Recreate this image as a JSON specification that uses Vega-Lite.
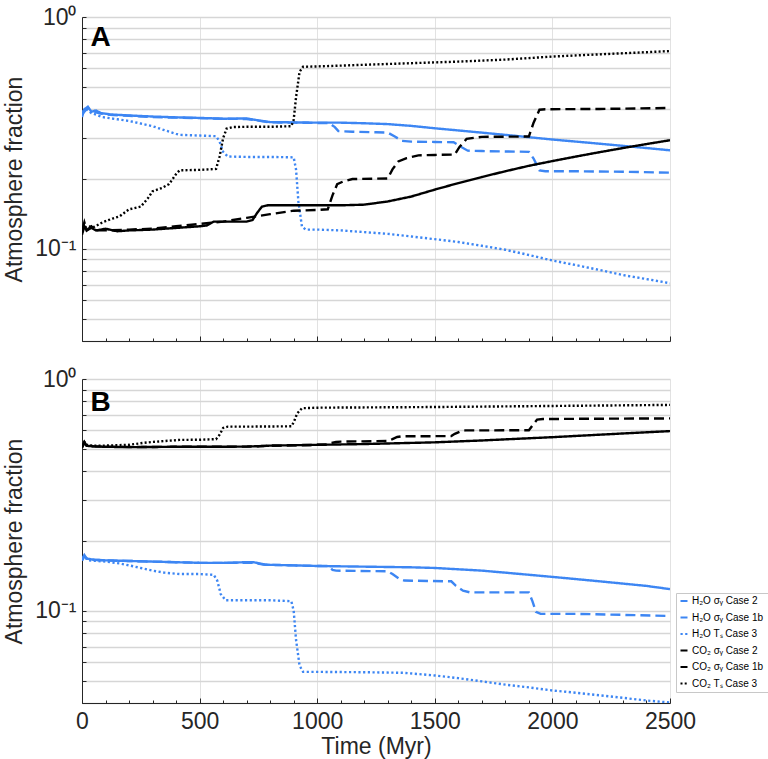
{
  "$schema": "https://vega.github.io/schema/vega-lite/v6.json",
  "description": "Atmosphere fraction of H2O and CO2 against time, two panels (A, B).",
  "padding": {"left": 3, "top": 6, "right": 0, "bottom": 4},
  "bounds": "flush",
  "spacing": 38,
  "datasets": {
    "a": [
      {"series": "h2o-2", "time": 0, "frac": 0.37}, {"series": "h2o-2", "time": 10, "frac": 0.40}, {"series": "h2o-2", "time": 25, "frac": 0.41}, {"series": "h2o-2", "time": 40, "frac": 0.39}, {"series": "h2o-2", "time": 60, "frac": 0.395}, {"series": "h2o-2", "time": 80, "frac": 0.385}, {"series": "h2o-2", "time": 120, "frac": 0.38}, {"series": "h2o-2", "time": 200, "frac": 0.376}, {"series": "h2o-2", "time": 300, "frac": 0.372}, {"series": "h2o-2", "time": 400, "frac": 0.369}, {"series": "h2o-2", "time": 500, "frac": 0.367}, {"series": "h2o-2", "time": 600, "frac": 0.364}, {"series": "h2o-2", "time": 700, "frac": 0.365}, {"series": "h2o-2", "time": 750, "frac": 0.358}, {"series": "h2o-2", "time": 800, "frac": 0.352}, {"series": "h2o-2", "time": 900, "frac": 0.351}, {"series": "h2o-2", "time": 1000, "frac": 0.35}, {"series": "h2o-2", "time": 1100, "frac": 0.35}, {"series": "h2o-2", "time": 1200, "frac": 0.348}, {"series": "h2o-2", "time": 1300, "frac": 0.345}, {"series": "h2o-2", "time": 1400, "frac": 0.339}, {"series": "h2o-2", "time": 1500, "frac": 0.331}, {"series": "h2o-2", "time": 1600, "frac": 0.324}, {"series": "h2o-2", "time": 1700, "frac": 0.317}, {"series": "h2o-2", "time": 1800, "frac": 0.31}, {"series": "h2o-2", "time": 1900, "frac": 0.303}, {"series": "h2o-2", "time": 2000, "frac": 0.296}, {"series": "h2o-2", "time": 2100, "frac": 0.29}, {"series": "h2o-2", "time": 2200, "frac": 0.284}, {"series": "h2o-2", "time": 2300, "frac": 0.278}, {"series": "h2o-2", "time": 2400, "frac": 0.272}, {"series": "h2o-2", "time": 2500, "frac": 0.266},

      {"series": "h2o-1b", "time": 0, "frac": 0.38}, {"series": "h2o-1b", "time": 10, "frac": 0.39}, {"series": "h2o-1b", "time": 25, "frac": 0.405}, {"series": "h2o-1b", "time": 40, "frac": 0.40}, {"series": "h2o-1b", "time": 60, "frac": 0.388}, {"series": "h2o-1b", "time": 80, "frac": 0.383}, {"series": "h2o-1b", "time": 120, "frac": 0.378}, {"series": "h2o-1b", "time": 200, "frac": 0.375}, {"series": "h2o-1b", "time": 300, "frac": 0.37}, {"series": "h2o-1b", "time": 400, "frac": 0.368}, {"series": "h2o-1b", "time": 500, "frac": 0.366}, {"series": "h2o-1b", "time": 600, "frac": 0.364}, {"series": "h2o-1b", "time": 700, "frac": 0.363}, {"series": "h2o-1b", "time": 750, "frac": 0.357}, {"series": "h2o-1b", "time": 800, "frac": 0.351}, {"series": "h2o-1b", "time": 900, "frac": 0.35}, {"series": "h2o-1b", "time": 1000, "frac": 0.349}, {"series": "h2o-1b", "time": 1050, "frac": 0.349}, {"series": "h2o-1b", "time": 1075, "frac": 0.335}, {"series": "h2o-1b", "time": 1090, "frac": 0.322}, {"series": "h2o-1b", "time": 1150, "frac": 0.32}, {"series": "h2o-1b", "time": 1250, "frac": 0.318}, {"series": "h2o-1b", "time": 1300, "frac": 0.317}, {"series": "h2o-1b", "time": 1330, "frac": 0.305}, {"series": "h2o-1b", "time": 1360, "frac": 0.292}, {"series": "h2o-1b", "time": 1400, "frac": 0.29}, {"series": "h2o-1b", "time": 1500, "frac": 0.289}, {"series": "h2o-1b", "time": 1580, "frac": 0.288}, {"series": "h2o-1b", "time": 1610, "frac": 0.276}, {"series": "h2o-1b", "time": 1640, "frac": 0.265}, {"series": "h2o-1b", "time": 1700, "frac": 0.264}, {"series": "h2o-1b", "time": 1800, "frac": 0.263}, {"series": "h2o-1b", "time": 1900, "frac": 0.262}, {"series": "h2o-1b", "time": 1920, "frac": 0.245}, {"series": "h2o-1b", "time": 1945, "frac": 0.218}, {"series": "h2o-1b", "time": 1970, "frac": 0.216}, {"series": "h2o-1b", "time": 2100, "frac": 0.216}, {"series": "h2o-1b", "time": 2300, "frac": 0.215}, {"series": "h2o-1b", "time": 2500, "frac": 0.213},

      {"series": "h2o-3", "time": 0, "frac": 0.39}, {"series": "h2o-3", "time": 20, "frac": 0.40}, {"series": "h2o-3", "time": 40, "frac": 0.385}, {"series": "h2o-3", "time": 87, "frac": 0.37}, {"series": "h2o-3", "time": 150, "frac": 0.362}, {"series": "h2o-3", "time": 200, "frac": 0.356}, {"series": "h2o-3", "time": 250, "frac": 0.347}, {"series": "h2o-3", "time": 300, "frac": 0.338}, {"series": "h2o-3", "time": 350, "frac": 0.325}, {"series": "h2o-3", "time": 400, "frac": 0.313}, {"series": "h2o-3", "time": 415, "frac": 0.31}, {"series": "h2o-3", "time": 500, "frac": 0.308}, {"series": "h2o-3", "time": 570, "frac": 0.306}, {"series": "h2o-3", "time": 585, "frac": 0.29}, {"series": "h2o-3", "time": 600, "frac": 0.262}, {"series": "h2o-3", "time": 620, "frac": 0.25}, {"series": "h2o-3", "time": 700, "frac": 0.249}, {"series": "h2o-3", "time": 800, "frac": 0.249}, {"series": "h2o-3", "time": 900, "frac": 0.248}, {"series": "h2o-3", "time": 910, "frac": 0.22}, {"series": "h2o-3", "time": 920, "frac": 0.16}, {"series": "h2o-3", "time": 935, "frac": 0.125}, {"series": "h2o-3", "time": 950, "frac": 0.121}, {"series": "h2o-3", "time": 1000, "frac": 0.121}, {"series": "h2o-3", "time": 1100, "frac": 0.12}, {"series": "h2o-3", "time": 1200, "frac": 0.118}, {"series": "h2o-3", "time": 1300, "frac": 0.116}, {"series": "h2o-3", "time": 1400, "frac": 0.113}, {"series": "h2o-3", "time": 1500, "frac": 0.11}, {"series": "h2o-3", "time": 1600, "frac": 0.107}, {"series": "h2o-3", "time": 1700, "frac": 0.103}, {"series": "h2o-3", "time": 1800, "frac": 0.099}, {"series": "h2o-3", "time": 1900, "frac": 0.094}, {"series": "h2o-3", "time": 2000, "frac": 0.089}, {"series": "h2o-3", "time": 2100, "frac": 0.085}, {"series": "h2o-3", "time": 2200, "frac": 0.081}, {"series": "h2o-3", "time": 2300, "frac": 0.077}, {"series": "h2o-3", "time": 2400, "frac": 0.074}, {"series": "h2o-3", "time": 2500, "frac": 0.071},

      {"series": "co2-2", "time": 0, "frac": 0.115}, {"series": "co2-2", "time": 10, "frac": 0.125}, {"series": "co2-2", "time": 20, "frac": 0.12}, {"series": "co2-2", "time": 40, "frac": 0.123}, {"series": "co2-2", "time": 60, "frac": 0.12}, {"series": "co2-2", "time": 100, "frac": 0.122}, {"series": "co2-2", "time": 150, "frac": 0.119}, {"series": "co2-2", "time": 200, "frac": 0.12}, {"series": "co2-2", "time": 300, "frac": 0.121}, {"series": "co2-2", "time": 400, "frac": 0.123}, {"series": "co2-2", "time": 500, "frac": 0.125}, {"series": "co2-2", "time": 530, "frac": 0.126}, {"series": "co2-2", "time": 560, "frac": 0.131}, {"series": "co2-2", "time": 600, "frac": 0.131}, {"series": "co2-2", "time": 700, "frac": 0.131}, {"series": "co2-2", "time": 725, "frac": 0.133}, {"series": "co2-2", "time": 745, "frac": 0.143}, {"series": "co2-2", "time": 765, "frac": 0.152}, {"series": "co2-2", "time": 790, "frac": 0.154}, {"series": "co2-2", "time": 900, "frac": 0.154}, {"series": "co2-2", "time": 1000, "frac": 0.154}, {"series": "co2-2", "time": 1100, "frac": 0.154}, {"series": "co2-2", "time": 1200, "frac": 0.155}, {"series": "co2-2", "time": 1300, "frac": 0.16}, {"series": "co2-2", "time": 1400, "frac": 0.168}, {"series": "co2-2", "time": 1500, "frac": 0.18}, {"series": "co2-2", "time": 1600, "frac": 0.192}, {"series": "co2-2", "time": 1700, "frac": 0.204}, {"series": "co2-2", "time": 1800, "frac": 0.216}, {"series": "co2-2", "time": 1900, "frac": 0.228}, {"series": "co2-2", "time": 2000, "frac": 0.239}, {"series": "co2-2", "time": 2100, "frac": 0.25}, {"series": "co2-2", "time": 2200, "frac": 0.261}, {"series": "co2-2", "time": 2300, "frac": 0.272}, {"series": "co2-2", "time": 2400, "frac": 0.283}, {"series": "co2-2", "time": 2500, "frac": 0.294},

      {"series": "co2-1b", "time": 0, "frac": 0.12}, {"series": "co2-1b", "time": 10, "frac": 0.13}, {"series": "co2-1b", "time": 20, "frac": 0.12}, {"series": "co2-1b", "time": 40, "frac": 0.125}, {"series": "co2-1b", "time": 60, "frac": 0.12}, {"series": "co2-1b", "time": 100, "frac": 0.12}, {"series": "co2-1b", "time": 200, "frac": 0.121}, {"series": "co2-1b", "time": 300, "frac": 0.122}, {"series": "co2-1b", "time": 400, "frac": 0.125}, {"series": "co2-1b", "time": 500, "frac": 0.128}, {"series": "co2-1b", "time": 600, "frac": 0.131}, {"series": "co2-1b", "time": 700, "frac": 0.136}, {"series": "co2-1b", "time": 800, "frac": 0.141}, {"series": "co2-1b", "time": 900, "frac": 0.146}, {"series": "co2-1b", "time": 1000, "frac": 0.147}, {"series": "co2-1b", "time": 1045, "frac": 0.148}, {"series": "co2-1b", "time": 1065, "frac": 0.17}, {"series": "co2-1b", "time": 1085, "frac": 0.19}, {"series": "co2-1b", "time": 1110, "frac": 0.195}, {"series": "co2-1b", "time": 1150, "frac": 0.2}, {"series": "co2-1b", "time": 1300, "frac": 0.201}, {"series": "co2-1b", "time": 1320, "frac": 0.22}, {"series": "co2-1b", "time": 1345, "frac": 0.238}, {"series": "co2-1b", "time": 1380, "frac": 0.246}, {"series": "co2-1b", "time": 1430, "frac": 0.253}, {"series": "co2-1b", "time": 1500, "frac": 0.254}, {"series": "co2-1b", "time": 1585, "frac": 0.255}, {"series": "co2-1b", "time": 1605, "frac": 0.275}, {"series": "co2-1b", "time": 1635, "frac": 0.298}, {"series": "co2-1b", "time": 1700, "frac": 0.304}, {"series": "co2-1b", "time": 1900, "frac": 0.305}, {"series": "co2-1b", "time": 1920, "frac": 0.35}, {"series": "co2-1b", "time": 1945, "frac": 0.398}, {"series": "co2-1b", "time": 1970, "frac": 0.4}, {"series": "co2-1b", "time": 2200, "frac": 0.401}, {"series": "co2-1b", "time": 2500, "frac": 0.405},

      {"series": "co2-3", "time": 0, "frac": 0.12}, {"series": "co2-3", "time": 20, "frac": 0.125}, {"series": "co2-3", "time": 50, "frac": 0.124}, {"series": "co2-3", "time": 87, "frac": 0.13}, {"series": "co2-3", "time": 130, "frac": 0.135}, {"series": "co2-3", "time": 160, "frac": 0.138}, {"series": "co2-3", "time": 200, "frac": 0.148}, {"series": "co2-3", "time": 250, "frac": 0.152}, {"series": "co2-3", "time": 280, "frac": 0.165}, {"series": "co2-3", "time": 300, "frac": 0.177}, {"series": "co2-3", "time": 340, "frac": 0.183}, {"series": "co2-3", "time": 370, "frac": 0.19}, {"series": "co2-3", "time": 400, "frac": 0.21}, {"series": "co2-3", "time": 415, "frac": 0.218}, {"series": "co2-3", "time": 500, "frac": 0.219}, {"series": "co2-3", "time": 570, "frac": 0.221}, {"series": "co2-3", "time": 585, "frac": 0.25}, {"series": "co2-3", "time": 600, "frac": 0.3}, {"series": "co2-3", "time": 615, "frac": 0.33}, {"series": "co2-3", "time": 640, "frac": 0.335}, {"series": "co2-3", "time": 700, "frac": 0.336}, {"series": "co2-3", "time": 800, "frac": 0.336}, {"series": "co2-3", "time": 890, "frac": 0.338}, {"series": "co2-3", "time": 900, "frac": 0.36}, {"series": "co2-3", "time": 910, "frac": 0.45}, {"series": "co2-3", "time": 925, "frac": 0.58}, {"series": "co2-3", "time": 940, "frac": 0.61}, {"series": "co2-3", "time": 1000, "frac": 0.612}, {"series": "co2-3", "time": 1200, "frac": 0.622}, {"series": "co2-3", "time": 1400, "frac": 0.632}, {"series": "co2-3", "time": 1600, "frac": 0.642}, {"series": "co2-3", "time": 1800, "frac": 0.655}, {"series": "co2-3", "time": 2000, "frac": 0.675}, {"series": "co2-3", "time": 2200, "frac": 0.69}, {"series": "co2-3", "time": 2400, "frac": 0.705}, {"series": "co2-3", "time": 2500, "frac": 0.713}
    ],
    "b": [
      {"series": "h2o-2", "time": 0, "frac": 0.165}, {"series": "h2o-2", "time": 10, "frac": 0.172}, {"series": "h2o-2", "time": 20, "frac": 0.168}, {"series": "h2o-2", "time": 50, "frac": 0.166}, {"series": "h2o-2", "time": 100, "frac": 0.165}, {"series": "h2o-2", "time": 200, "frac": 0.164}, {"series": "h2o-2", "time": 300, "frac": 0.163}, {"series": "h2o-2", "time": 400, "frac": 0.162}, {"series": "h2o-2", "time": 500, "frac": 0.161}, {"series": "h2o-2", "time": 600, "frac": 0.161}, {"series": "h2o-2", "time": 700, "frac": 0.162}, {"series": "h2o-2", "time": 730, "frac": 0.162}, {"series": "h2o-2", "time": 780, "frac": 0.158}, {"series": "h2o-2", "time": 900, "frac": 0.157}, {"series": "h2o-2", "time": 1000, "frac": 0.156}, {"series": "h2o-2", "time": 1200, "frac": 0.155}, {"series": "h2o-2", "time": 1400, "frac": 0.154}, {"series": "h2o-2", "time": 1500, "frac": 0.153}, {"series": "h2o-2", "time": 1600, "frac": 0.151}, {"series": "h2o-2", "time": 1700, "frac": 0.149}, {"series": "h2o-2", "time": 1800, "frac": 0.146}, {"series": "h2o-2", "time": 1900, "frac": 0.143}, {"series": "h2o-2", "time": 2000, "frac": 0.14}, {"series": "h2o-2", "time": 2100, "frac": 0.137}, {"series": "h2o-2", "time": 2200, "frac": 0.134}, {"series": "h2o-2", "time": 2300, "frac": 0.131}, {"series": "h2o-2", "time": 2400, "frac": 0.128}, {"series": "h2o-2", "time": 2500, "frac": 0.124},

      {"series": "h2o-1b", "time": 0, "frac": 0.167}, {"series": "h2o-1b", "time": 10, "frac": 0.174}, {"series": "h2o-1b", "time": 20, "frac": 0.168}, {"series": "h2o-1b", "time": 50, "frac": 0.166}, {"series": "h2o-1b", "time": 100, "frac": 0.165}, {"series": "h2o-1b", "time": 200, "frac": 0.164}, {"series": "h2o-1b", "time": 300, "frac": 0.163}, {"series": "h2o-1b", "time": 400, "frac": 0.162}, {"series": "h2o-1b", "time": 500, "frac": 0.161}, {"series": "h2o-1b", "time": 600, "frac": 0.161}, {"series": "h2o-1b", "time": 700, "frac": 0.161}, {"series": "h2o-1b", "time": 730, "frac": 0.161}, {"series": "h2o-1b", "time": 780, "frac": 0.158}, {"series": "h2o-1b", "time": 900, "frac": 0.157}, {"series": "h2o-1b", "time": 1000, "frac": 0.156}, {"series": "h2o-1b", "time": 1050, "frac": 0.156}, {"series": "h2o-1b", "time": 1065, "frac": 0.15}, {"series": "h2o-1b", "time": 1080, "frac": 0.149}, {"series": "h2o-1b", "time": 1300, "frac": 0.148}, {"series": "h2o-1b", "time": 1320, "frac": 0.144}, {"series": "h2o-1b", "time": 1350, "frac": 0.137}, {"series": "h2o-1b", "time": 1370, "frac": 0.135}, {"series": "h2o-1b", "time": 1570, "frac": 0.134}, {"series": "h2o-1b", "time": 1590, "frac": 0.128}, {"series": "h2o-1b", "time": 1620, "frac": 0.122}, {"series": "h2o-1b", "time": 1650, "frac": 0.12}, {"series": "h2o-1b", "time": 1900, "frac": 0.12}, {"series": "h2o-1b", "time": 1915, "frac": 0.11}, {"series": "h2o-1b", "time": 1930, "frac": 0.099}, {"series": "h2o-1b", "time": 1950, "frac": 0.097}, {"series": "h2o-1b", "time": 2100, "frac": 0.097}, {"series": "h2o-1b", "time": 2300, "frac": 0.096}, {"series": "h2o-1b", "time": 2500, "frac": 0.095},

      {"series": "h2o-3", "time": 0, "frac": 0.165}, {"series": "h2o-3", "time": 10, "frac": 0.17}, {"series": "h2o-3", "time": 30, "frac": 0.165}, {"series": "h2o-3", "time": 100, "frac": 0.163}, {"series": "h2o-3", "time": 160, "frac": 0.16}, {"series": "h2o-3", "time": 200, "frac": 0.157}, {"series": "h2o-3", "time": 250, "frac": 0.153}, {"series": "h2o-3", "time": 300, "frac": 0.149}, {"series": "h2o-3", "time": 350, "frac": 0.146}, {"series": "h2o-3", "time": 415, "frac": 0.144}, {"series": "h2o-3", "time": 500, "frac": 0.144}, {"series": "h2o-3", "time": 560, "frac": 0.143}, {"series": "h2o-3", "time": 575, "frac": 0.135}, {"series": "h2o-3", "time": 590, "frac": 0.118}, {"series": "h2o-3", "time": 610, "frac": 0.111}, {"series": "h2o-3", "time": 700, "frac": 0.111}, {"series": "h2o-3", "time": 800, "frac": 0.111}, {"series": "h2o-3", "time": 890, "frac": 0.11}, {"series": "h2o-3", "time": 900, "frac": 0.1}, {"series": "h2o-3", "time": 910, "frac": 0.075}, {"series": "h2o-3", "time": 925, "frac": 0.058}, {"series": "h2o-3", "time": 940, "frac": 0.0545}, {"series": "h2o-3", "time": 1000, "frac": 0.0545}, {"series": "h2o-3", "time": 1200, "frac": 0.0543}, {"series": "h2o-3", "time": 1365, "frac": 0.054}, {"series": "h2o-3", "time": 1500, "frac": 0.0526}, {"series": "h2o-3", "time": 1600, "frac": 0.0512}, {"series": "h2o-3", "time": 1700, "frac": 0.0496}, {"series": "h2o-3", "time": 1800, "frac": 0.048}, {"series": "h2o-3", "time": 1900, "frac": 0.0467}, {"series": "h2o-3", "time": 2000, "frac": 0.0453}, {"series": "h2o-3", "time": 2100, "frac": 0.0443}, {"series": "h2o-3", "time": 2200, "frac": 0.0432}, {"series": "h2o-3", "time": 2300, "frac": 0.0421}, {"series": "h2o-3", "time": 2400, "frac": 0.041}, {"series": "h2o-3", "time": 2500, "frac": 0.0402},

      {"series": "co2-2", "time": 0, "frac": 0.505}, {"series": "co2-2", "time": 10, "frac": 0.53}, {"series": "co2-2", "time": 20, "frac": 0.515}, {"series": "co2-2", "time": 50, "frac": 0.512}, {"series": "co2-2", "time": 100, "frac": 0.51}, {"series": "co2-2", "time": 200, "frac": 0.508}, {"series": "co2-2", "time": 300, "frac": 0.509}, {"series": "co2-2", "time": 400, "frac": 0.51}, {"series": "co2-2", "time": 500, "frac": 0.51}, {"series": "co2-2", "time": 600, "frac": 0.51}, {"series": "co2-2", "time": 700, "frac": 0.511}, {"series": "co2-2", "time": 750, "frac": 0.513}, {"series": "co2-2", "time": 800, "frac": 0.516}, {"series": "co2-2", "time": 900, "frac": 0.518}, {"series": "co2-2", "time": 1000, "frac": 0.52}, {"series": "co2-2", "time": 1100, "frac": 0.522}, {"series": "co2-2", "time": 1200, "frac": 0.524}, {"series": "co2-2", "time": 1300, "frac": 0.527}, {"series": "co2-2", "time": 1400, "frac": 0.53}, {"series": "co2-2", "time": 1500, "frac": 0.533}, {"series": "co2-2", "time": 1600, "frac": 0.538}, {"series": "co2-2", "time": 1700, "frac": 0.543}, {"series": "co2-2", "time": 1800, "frac": 0.549}, {"series": "co2-2", "time": 1900, "frac": 0.555}, {"series": "co2-2", "time": 2000, "frac": 0.561}, {"series": "co2-2", "time": 2100, "frac": 0.568}, {"series": "co2-2", "time": 2200, "frac": 0.575}, {"series": "co2-2", "time": 2300, "frac": 0.582}, {"series": "co2-2", "time": 2400, "frac": 0.589}, {"series": "co2-2", "time": 2500, "frac": 0.596},

      {"series": "co2-1b", "time": 0, "frac": 0.51}, {"series": "co2-1b", "time": 10, "frac": 0.535}, {"series": "co2-1b", "time": 20, "frac": 0.515}, {"series": "co2-1b", "time": 50, "frac": 0.512}, {"series": "co2-1b", "time": 100, "frac": 0.51}, {"series": "co2-1b", "time": 200, "frac": 0.509}, {"series": "co2-1b", "time": 300, "frac": 0.509}, {"series": "co2-1b", "time": 400, "frac": 0.51}, {"series": "co2-1b", "time": 500, "frac": 0.51}, {"series": "co2-1b", "time": 600, "frac": 0.51}, {"series": "co2-1b", "time": 700, "frac": 0.511}, {"series": "co2-1b", "time": 750, "frac": 0.513}, {"series": "co2-1b", "time": 800, "frac": 0.515}, {"series": "co2-1b", "time": 900, "frac": 0.517}, {"series": "co2-1b", "time": 1000, "frac": 0.52}, {"series": "co2-1b", "time": 1040, "frac": 0.522}, {"series": "co2-1b", "time": 1060, "frac": 0.53}, {"series": "co2-1b", "time": 1080, "frac": 0.535}, {"series": "co2-1b", "time": 1100, "frac": 0.537}, {"series": "co2-1b", "time": 1300, "frac": 0.54}, {"series": "co2-1b", "time": 1320, "frac": 0.55}, {"series": "co2-1b", "time": 1340, "frac": 0.562}, {"series": "co2-1b", "time": 1360, "frac": 0.566}, {"series": "co2-1b", "time": 1570, "frac": 0.567}, {"series": "co2-1b", "time": 1585, "frac": 0.58}, {"series": "co2-1b", "time": 1610, "frac": 0.595}, {"series": "co2-1b", "time": 1630, "frac": 0.6}, {"series": "co2-1b", "time": 1900, "frac": 0.601}, {"series": "co2-1b", "time": 1915, "frac": 0.63}, {"series": "co2-1b", "time": 1935, "frac": 0.668}, {"series": "co2-1b", "time": 1960, "frac": 0.672}, {"series": "co2-1b", "time": 2200, "frac": 0.674}, {"series": "co2-1b", "time": 2500, "frac": 0.676},

      {"series": "co2-3", "time": 0, "frac": 0.51}, {"series": "co2-3", "time": 10, "frac": 0.535}, {"series": "co2-3", "time": 20, "frac": 0.52}, {"series": "co2-3", "time": 50, "frac": 0.515}, {"series": "co2-3", "time": 100, "frac": 0.516}, {"series": "co2-3", "time": 200, "frac": 0.52}, {"series": "co2-3", "time": 260, "frac": 0.53}, {"series": "co2-3", "time": 300, "frac": 0.535}, {"series": "co2-3", "time": 350, "frac": 0.54}, {"series": "co2-3", "time": 415, "frac": 0.546}, {"series": "co2-3", "time": 500, "frac": 0.547}, {"series": "co2-3", "time": 570, "frac": 0.55}, {"series": "co2-3", "time": 585, "frac": 0.575}, {"series": "co2-3", "time": 600, "frac": 0.615}, {"series": "co2-3", "time": 620, "frac": 0.623}, {"series": "co2-3", "time": 700, "frac": 0.623}, {"series": "co2-3", "time": 800, "frac": 0.624}, {"series": "co2-3", "time": 890, "frac": 0.625}, {"series": "co2-3", "time": 900, "frac": 0.65}, {"series": "co2-3", "time": 915, "frac": 0.71}, {"series": "co2-3", "time": 935, "frac": 0.748}, {"series": "co2-3", "time": 1000, "frac": 0.752}, {"series": "co2-3", "time": 1500, "frac": 0.757}, {"series": "co2-3", "time": 2000, "frac": 0.765}, {"series": "co2-3", "time": 2500, "frac": 0.773}
    ]
  },
  "vconcat": [
    {
      "width": 588,
      "height": 324,
      "resolve": {"axis": {"x": "independent"}},
      "layer": [
        {
          "data": {"name": "a"},
          "mark": {"type": "line", "strokeWidth": 2.4, "strokeCap": "butt", "clip": true},
          "encoding": {
            "x": {
              "field": "time", "type": "quantitative",
              "scale": {"domain": [0, 2500], "nice": false},
              "axis": {
                "orient": "bottom",
                "values": [0, 500, 1000, 1500, 2000, 2500],
                "labels": false,
                "title": null,
                "gridColor": "#e2e2e2",
                "tickSize": -5
              }
            },
            "y": {
              "field": "frac", "type": "quantitative",
              "scale": {"type": "log", "domain": [0.04, 1], "nice": false},
              "axis": {
                "values": [0.04, 0.05, 0.06, 0.07, 0.08, 0.09, 0.1, 0.2, 0.3, 0.4, 0.5, 0.6, 0.7, 0.8, 0.9, 1],
                "labelExpr": "datum.value === 1 ? '10⁰' : (datum.value === 0.1 ? '10⁻¹' : '')",
                "labelOverlap": false,
                "title": "Atmosphere fraction",
                "gridWidth": 1.3,
                "tickSize": -4,
                "labelPadding": 10,
                "titlePadding": 8
              }
            },
            "color": {
              "field": "series", "type": "nominal",
              "scale": {"domain": ["h2o-2", "h2o-1b", "h2o-3", "co2-2", "co2-1b", "co2-3"], "range": ["#3d86f3", "#3d86f3", "#3d86f3", "#000000", "#000000", "#000000"]},
              "legend": null
            },
            "strokeDash": {
              "field": "series", "type": "nominal",
              "scale": {"domain": ["h2o-2", "h2o-1b", "h2o-3", "co2-2", "co2-1b", "co2-3"], "range": [[1, 0], [10, 5], [2.2, 2.5], [1, 0], [10, 5], [2, 2.2]]},
              "legend": null
            }
          }
        },
        {
          "data": {"name": "a"},
          "mark": {"type": "point", "opacity": 0},
          "encoding": {
            "x": {
              "field": "time", "type": "quantitative",
              "axis": {
                "orient": "bottom",
                "values": [100, 200, 300, 400, 600, 700, 800, 900, 1100, 1200, 1300, 1400, 1600, 1700, 1800, 1900, 2100, 2200, 2300, 2400],
                "labels": false,
                "grid": false,
                "domain": false,
                "title": null,
                "tickSize": -3
              }
            }
          }
        },
        {
          "data": {"values": [{}]},
          "mark": {"type": "text", "text": "A", "fontSize": 28, "fontWeight": "bold", "align": "left", "baseline": "alphabetic", "color": "#000"},
          "encoding": {"x": {"datum": 36, "axis": null}, "y": {"datum": 0.752}}
        }
      ]
    },
    {
      "width": 588,
      "height": 324,
      "resolve": {"axis": {"x": "independent"}},
      "layer": [
        {
          "data": {"name": "b"},
          "mark": {"type": "line", "strokeWidth": 2.4, "strokeCap": "butt", "clip": true},
          "encoding": {
            "x": {
              "field": "time", "type": "quantitative",
              "scale": {"domain": [0, 2500], "nice": false},
              "axis": {
                "orient": "bottom",
                "values": [0, 500, 1000, 1500, 2000, 2500],
                "format": "d",
                "title": "Time (Myr)",
                "titlePadding": 2,
                "labelPadding": 12,
                "gridColor": "#e2e2e2",
                "tickSize": -5
              }
            },
            "y": {
              "field": "frac", "type": "quantitative",
              "scale": {"type": "log", "domain": [0.04, 1], "nice": false},
              "axis": {
                "values": [0.04, 0.05, 0.06, 0.07, 0.08, 0.09, 0.1, 0.2, 0.3, 0.4, 0.5, 0.6, 0.7, 0.8, 0.9, 1],
                "labelExpr": "datum.value === 1 ? '10⁰' : (datum.value === 0.1 ? '10⁻¹' : '')",
                "labelOverlap": false,
                "title": "Atmosphere fraction",
                "gridWidth": 1.3,
                "tickSize": -4,
                "labelPadding": 10,
                "titlePadding": 8
              }
            },
            "color": {
              "field": "series", "type": "nominal",
              "scale": {"domain": ["h2o-2", "h2o-1b", "h2o-3", "co2-2", "co2-1b", "co2-3"], "range": ["#3d86f3", "#3d86f3", "#3d86f3", "#000000", "#000000", "#000000"]},
              "legend": {
                "title": null,
                "orient": "none",
                "legendX": 594,
                "legendY": 214,
                "symbolType": "stroke",
                "symbolSize": 49,
                "symbolStrokeWidth": 2,
                "labelFontSize": 10,
                "labelColor": "#000",
                "labelOffset": 3,
                "rowPadding": 6.5,
                "padding": 3,
                "strokeColor": "#c8c8c8",
                "fillColor": "#ffffff",
                "labelExpr": "datum.label === 'h2o-2' ? 'H₂O   σᵧ Case 2' : datum.label === 'h2o-1b' ? 'H₂O   σᵧ Case 1b' : datum.label === 'h2o-3' ? 'H₂O   Tₛ Case 3' : datum.label === 'co2-2' ? 'CO₂   σᵧ Case 2' : datum.label === 'co2-1b' ? 'CO₂   σᵧ Case 1b' : 'CO₂   Tₛ Case 3'"
              }
            },
            "strokeDash": {
              "field": "series", "type": "nominal",
              "scale": {"domain": ["h2o-2", "h2o-1b", "h2o-3", "co2-2", "co2-1b", "co2-3"], "range": [[1, 0], [10, 5], [2.2, 2.5], [1, 0], [10, 5], [2, 2.2]]}
            }
          }
        },
        {
          "data": {"name": "b"},
          "mark": {"type": "point", "opacity": 0},
          "encoding": {
            "x": {
              "field": "time", "type": "quantitative",
              "axis": {
                "orient": "bottom",
                "values": [100, 200, 300, 400, 600, 700, 800, 900, 1100, 1200, 1300, 1400, 1600, 1700, 1800, 1900, 2100, 2200, 2300, 2400],
                "labels": false,
                "grid": false,
                "domain": false,
                "title": null,
                "tickSize": -3
              }
            }
          }
        },
        {
          "data": {"values": [{}]},
          "mark": {"type": "text", "text": "B", "fontSize": 28, "fontWeight": "bold", "align": "left", "baseline": "alphabetic", "color": "#000"},
          "encoding": {"x": {"datum": 36, "axis": null}, "y": {"datum": 0.728}}
        }
      ]
    }
  ],
  "resolve": {"scale": {"color": "independent", "strokeDash": "independent"}},
  "config": {
    "font": "Liberation Sans",
    "view": {"stroke": null},
    "axis": {
      "domainColor": "#262626",
      "tickColor": "#262626",
      "labelColor": "#262626",
      "titleColor": "#262626",
      "labelFontSize": 23,
      "titleFontSize": 23,
      "titleFontWeight": "normal",
      "gridColor": "#d6d6d6",
      "gridWidth": 1,
      "labelFlush": false,
      "labelOverlap": false
    }
  }
}
